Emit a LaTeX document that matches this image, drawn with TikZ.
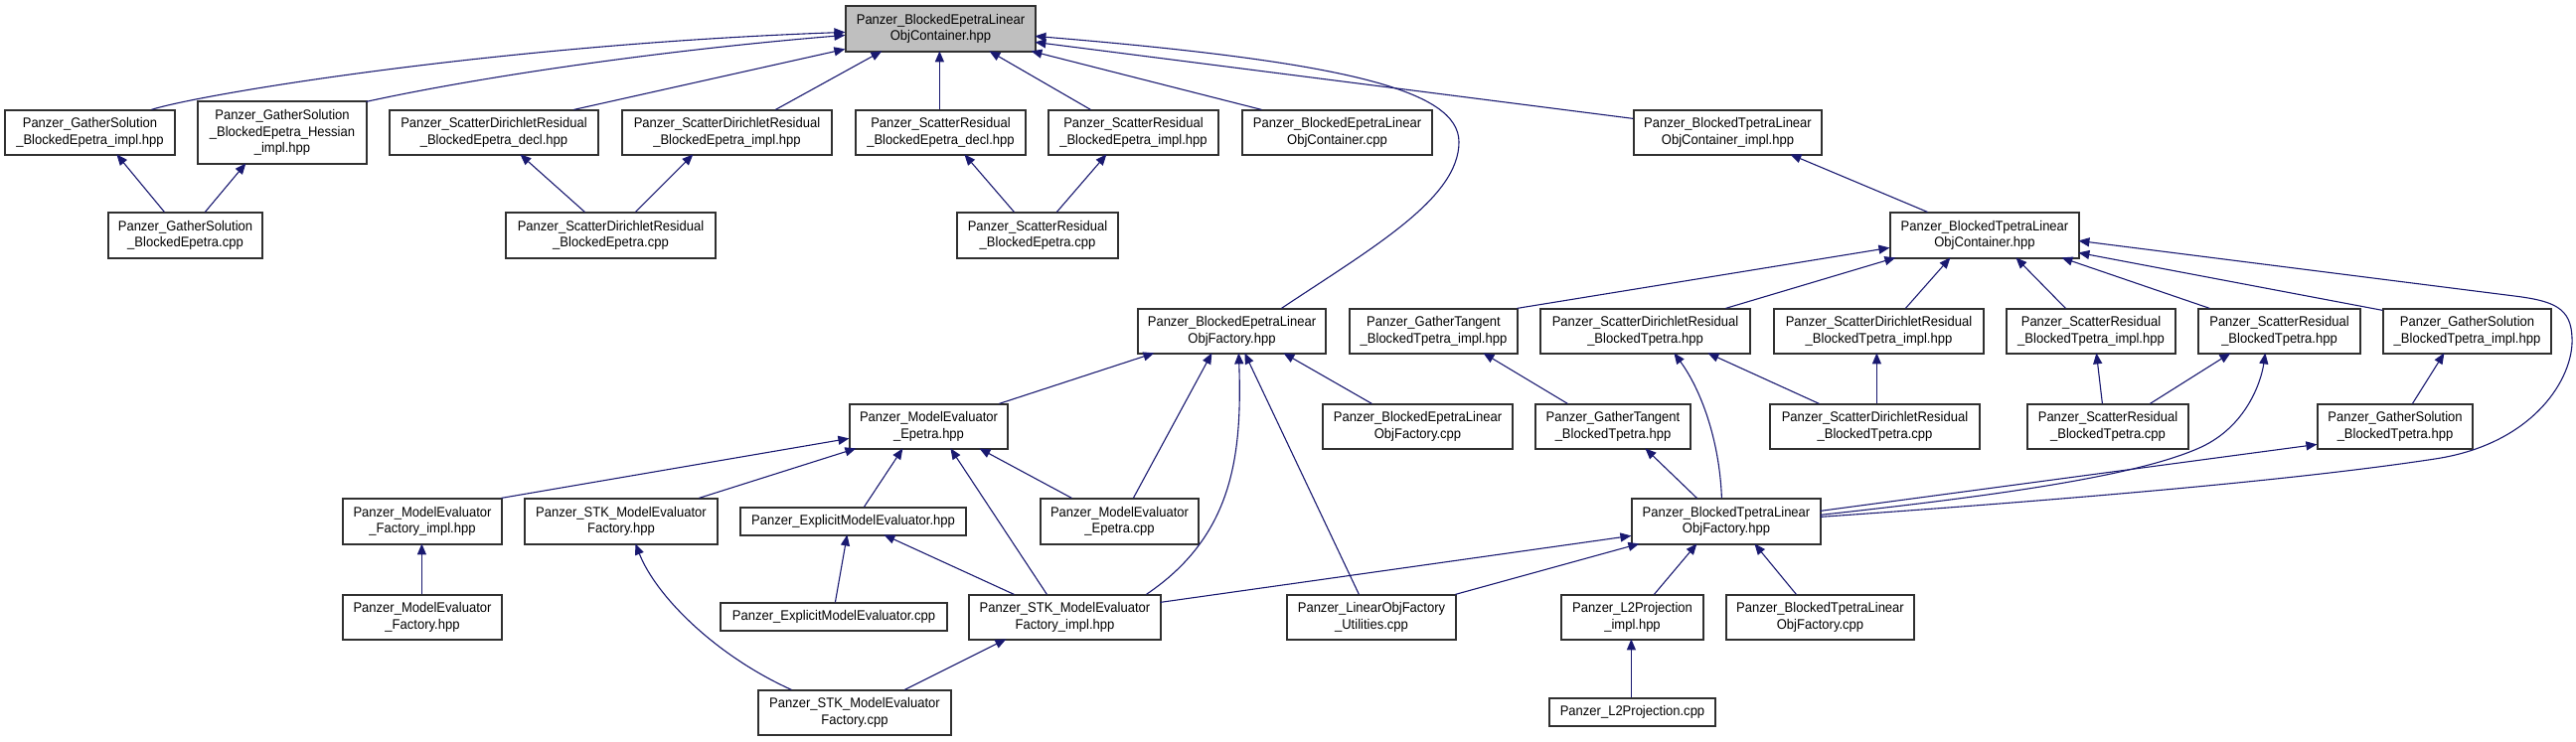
\documentclass[tikz,border=0pt]{standalone}
\usepackage{fontspec}
\setmainfont{Liberation Sans}[FakeStretch=0.93]
\usetikzlibrary{arrows.meta}
\definecolor{edgeblue}{HTML}{191970}
\definecolor{boxline}{HTML}{303030}
\definecolor{mainfill}{HTML}{BFBFBF}
\tikzset{
  box/.style={draw=boxline, line width=1.2pt, fill=white, inner sep=1pt, align=center,
    font=\fontsize{14}{16.7}\selectfont},
  mainbox/.style={box, fill=mainfill},
  edge/.style={draw=edgeblue, line width=1.1pt, -{Triangle[length=11pt,width=9pt]}}
}
\begin{document}
\begin{tikzpicture}[x=1pt,y=-1pt]
\useasboundingbox (0,0) rectangle (2592,747);
% nodes
\node[mainbox,minimum width=191pt,minimum height=46pt] (main) at (946.5,29) {Panzer\_BlockedEpetraLinear\\ObjContainer.hpp};
\node[box,minimum width=171pt,minimum height=45pt] (gsi) at (90.5,133.5) {Panzer\_GatherSolution\\\_BlockedEpetra\_impl.hpp};
\node[box,minimum width=170pt,minimum height=63pt] (gsh) at (284,133.5) {Panzer\_GatherSolution\\\_BlockedEpetra\_Hessian\\\_impl.hpp};
\node[box,minimum width=210pt,minimum height=45pt] (sdrd) at (497,133.5) {Panzer\_ScatterDirichletResidual\\\_BlockedEpetra\_decl.hpp};
\node[box,minimum width=211pt,minimum height=45pt] (sdri) at (731.5,133.5) {Panzer\_ScatterDirichletResidual\\\_BlockedEpetra\_impl.hpp};
\node[box,minimum width=171pt,minimum height=45pt] (srd) at (946.5,133.5) {Panzer\_ScatterResidual\\\_BlockedEpetra\_decl.hpp};
\node[box,minimum width=171pt,minimum height=45pt] (sri) at (1140.5,133.5) {Panzer\_ScatterResidual\\\_BlockedEpetra\_impl.hpp};
\node[box,minimum width=191pt,minimum height=45pt] (belc) at (1345.5,133.5) {Panzer\_BlockedEpetraLinear\\ObjContainer.cpp};
\node[box,minimum width=189pt,minimum height=45pt] (btli) at (1738.5,133.5) {Panzer\_BlockedTpetraLinear\\ObjContainer\_impl.hpp};
\node[box,minimum width=155pt,minimum height=46pt] (gsc) at (186.5,237) {Panzer\_GatherSolution\\\_BlockedEpetra.cpp};
\node[box,minimum width=211pt,minimum height=46pt] (sdrc) at (614.5,237) {Panzer\_ScatterDirichletResidual\\\_BlockedEpetra.cpp};
\node[box,minimum width=162pt,minimum height=46pt] (src) at (1044,237) {Panzer\_ScatterResidual\\\_BlockedEpetra.cpp};
\node[box,minimum width=190pt,minimum height=46pt] (btlh) at (1997,237) {Panzer\_BlockedTpetraLinear\\ObjContainer.hpp};
\node[box,minimum width=189pt,minimum height=45pt] (befh) at (1239.5,333.5) {Panzer\_BlockedEpetraLinear\\ObjFactory.hpp};
\node[box,minimum width=169pt,minimum height=45pt] (gti) at (1442.5,333.5) {Panzer\_GatherTangent\\\_BlockedTpetra\_impl.hpp};
\node[box,minimum width=211pt,minimum height=45pt] (sdrth) at (1655.5,333.5) {Panzer\_ScatterDirichletResidual\\\_BlockedTpetra.hpp};
\node[box,minimum width=211pt,minimum height=45pt] (sdrti) at (1890.5,333.5) {Panzer\_ScatterDirichletResidual\\\_BlockedTpetra\_impl.hpp};
\node[box,minimum width=170pt,minimum height=45pt] (srti) at (2104,333.5) {Panzer\_ScatterResidual\\\_BlockedTpetra\_impl.hpp};
\node[box,minimum width=163pt,minimum height=45pt] (srth) at (2293.5,333.5) {Panzer\_ScatterResidual\\\_BlockedTpetra.hpp};
\node[box,minimum width=169pt,minimum height=45pt] (gsti) at (2482.5,333.5) {Panzer\_GatherSolution\\\_BlockedTpetra\_impl.hpp};
\node[box,minimum width=159pt,minimum height=45pt] (meh) at (934.5,429.5) {Panzer\_ModelEvaluator\\\_Epetra.hpp};
\node[box,minimum width=191pt,minimum height=45pt] (befc) at (1426.5,429.5) {Panzer\_BlockedEpetraLinear\\ObjFactory.cpp};
\node[box,minimum width=156pt,minimum height=45pt] (gth) at (1623,429.5) {Panzer\_GatherTangent\\\_BlockedTpetra.hpp};
\node[box,minimum width=211pt,minimum height=45pt] (sdrtc) at (1886.5,429.5) {Panzer\_ScatterDirichletResidual\\\_BlockedTpetra.cpp};
\node[box,minimum width=162pt,minimum height=45pt] (srtc) at (2121,429.5) {Panzer\_ScatterResidual\\\_BlockedTpetra.cpp};
\node[box,minimum width=156pt,minimum height=45pt] (gsth) at (2410,429.5) {Panzer\_GatherSolution\\\_BlockedTpetra.hpp};
\node[box,minimum width=160pt,minimum height=46pt] (mefi) at (425,525) {Panzer\_ModelEvaluator\\\_Factory\_impl.hpp};
\node[box,minimum width=194pt,minimum height=46pt] (stkfh) at (625,525) {Panzer\_STK\_ModelEvaluator\\Factory.hpp};
\node[box,minimum width=227pt,minimum height=28pt] (exh) at (858.5,525) {Panzer\_ExplicitModelEvaluator.hpp};
\node[box,minimum width=159pt,minimum height=46pt] (mec) at (1126.5,525) {Panzer\_ModelEvaluator\\\_Epetra.cpp};
\node[box,minimum width=190pt,minimum height=46pt] (btfh) at (1737,525) {Panzer\_BlockedTpetraLinear\\ObjFactory.hpp};
\node[box,minimum width=160pt,minimum height=45pt] (mefh) at (425,621.5) {Panzer\_ModelEvaluator\\\_Factory.hpp};
\node[box,minimum width=228pt,minimum height=28pt] (exc) at (839,621) {Panzer\_ExplicitModelEvaluator.cpp};
\node[box,minimum width=193pt,minimum height=45pt] (stki) at (1071.5,621.5) {Panzer\_STK\_ModelEvaluator\\Factory\_impl.hpp};
\node[box,minimum width=170pt,minimum height=45pt] (lof) at (1380,621.5) {Panzer\_LinearObjFactory\\\_Utilities.cpp};
\node[box,minimum width=143pt,minimum height=45pt] (l2i) at (1642.5,621.5) {Panzer\_L2Projection\\\_impl.hpp};
\node[box,minimum width=189pt,minimum height=45pt] (btfc) at (1831.5,621.5) {Panzer\_BlockedTpetraLinear\\ObjFactory.cpp};
\node[box,minimum width=167pt,minimum height=28pt] (l2c) at (1642.5,717) {Panzer\_L2Projection.cpp};
\node[box,minimum width=194pt,minimum height=45pt] (stkc) at (860,717.5) {Panzer\_STK\_ModelEvaluator\\Factory.cpp};
% edges
\draw[edge] ([shift={(148,0)}]gsi.north west) .. controls (200,95) and (500,45) .. ([shift={(0,27)}]main.north west);
\draw[edge] ([shift={(170,1)}]gsh.north west) .. controls (470,80) and (650,52) .. ([shift={(0,30)}]main.north west);
\draw[edge] ([shift={(186,0)}]sdrd.north west) -- ([shift={(0,44)}]main.north west);
\draw[edge] ([shift={(155,0)}]sdri.north west) -- ([shift={(37,46)}]main.north west);
\draw[edge] ([shift={(85,0)}]srd.north west) -- ([shift={(95,46)}]main.north west);
\draw[edge] ([shift={(43,0)}]sri.north west) -- ([shift={(145,46)}]main.north west);
\draw[edge] ([shift={(20,0)}]belc.north west) -- ([shift={(187,46)}]main.north west);
\draw[edge] ([shift={(0,9)}]btli.north west) -- ([shift={(191,37)}]main.north west);
\draw[edge] ([shift={(145,0)}]befh.north west) .. controls (1380,250) and (1468,200) .. (1468,143) .. controls (1468,90) and (1350,62) .. ([shift={(191,31)}]main.north west);
\draw[edge] ([shift={(57,0)}]gsc.north west) -- ([shift={(113,45)}]gsi.north west);
\draw[edge] ([shift={(98,0)}]gsc.north west) -- ([shift={(49,63)}]gsh.north west);
\draw[edge] ([shift={(80,0)}]sdrc.north west) -- ([shift={(132,45)}]sdrd.north west);
\draw[edge] ([shift={(131,0)}]sdrc.north west) -- ([shift={(72,45)}]sdri.north west);
\draw[edge] ([shift={(58,0)}]src.north west) -- ([shift={(110,45)}]srd.north west);
\draw[edge] ([shift={(101,0)}]src.north west) -- ([shift={(59,45)}]sri.north west);
\draw[edge] ([shift={(38,0)}]btlh.north west) -- ([shift={(158,45)}]btli.north west);
\draw[edge] ([shift={(151,0)}]meh.north west) -- ([shift={(17,45)}]befh.north west);
\draw[edge] ([shift={(94,0)}]mec.north west) -- ([shift={(75,45)}]befh.north west);
\draw[edge] ([shift={(179,0)}]stki.north west) .. controls (1240,540) and (1250,460) .. ([shift={(102,45)}]befh.north west);
\draw[edge] ([shift={(73,0)}]lof.north west) -- ([shift={(108,45)}]befh.north west);
\draw[edge] ([shift={(50,0)}]befc.north west) -- ([shift={(147,45)}]befh.north west);
\draw[edge] ([shift={(160,0)}]mefi.north west) -- ([shift={(0,35)}]meh.north west);
\draw[edge] ([shift={(176,0)}]stkfh.north west) -- ([shift={(7,45)}]meh.north west);
\draw[edge] ([shift={(125,0)}]exh.north west) -- ([shift={(54,45)}]meh.north west);
\draw[edge] ([shift={(79,0)}]stki.north west) -- ([shift={(102,45)}]meh.north west);
\draw[edge] ([shift={(32,0)}]mec.north west) -- ([shift={(131,45)}]meh.north west);
\draw[edge] ([shift={(80,0)}]mefh.north west) -- ([shift={(80,46)}]mefi.north west);
\draw[edge] ([shift={(34,0)}]stkc.north west) .. controls (720,660) and (660,600) .. ([shift={(112,46)}]stkfh.north west);
\draw[edge] ([shift={(116,0)}]exc.north west) -- ([shift={(108,28)}]exh.north west);
\draw[edge] ([shift={(46,0)}]stki.north west) -- ([shift={(145,28)}]exh.north west);
\draw[edge] ([shift={(148,0)}]stkc.north west) -- ([shift={(38,45)}]stki.north west);
\draw[edge] ([shift={(193,8)}]stki.north west) -- ([shift={(0,38)}]btfh.north west);
\draw[edge] ([shift={(170,0)}]lof.north west) -- ([shift={(8,46)}]btfh.north west);
\draw[edge] ([shift={(94,0)}]l2i.north west) -- ([shift={(66,46)}]btfh.north west);
\draw[edge] ([shift={(71,0)}]btfc.north west) -- ([shift={(124,46)}]btfh.north west);
\draw[edge] ([shift={(83,0)}]l2c.north west) -- ([shift={(71,45)}]l2i.north west);
\draw[edge] ([shift={(169,0)}]gti.north west) -- ([shift={(0,36)}]btlh.north west);
\draw[edge] ([shift={(187,0)}]sdrth.north west) -- ([shift={(6,46)}]btlh.north west);
\draw[edge] ([shift={(133,0)}]sdrti.north west) -- ([shift={(61,46)}]btlh.north west);
\draw[edge] ([shift={(60,0)}]srti.north west) -- ([shift={(127,46)}]btlh.north west);
\draw[edge] ([shift={(12,0)}]srth.north west) -- ([shift={(173,46)}]btlh.north west);
\draw[edge] ([shift={(0,2)}]gsti.north west) -- ([shift={(190,41)}]btlh.north west);
\draw[edge] ([shift={(190,19)}]btfh.north west) .. controls (2050,505) and (2300,485) .. (2450,462) .. controls (2550,447) and (2590,380) .. (2588,340) .. controls (2587,310) and (2570,303) .. (2530,298) -- ([shift={(190,29)}]btlh.north west);
\draw[edge] ([shift={(33,0)}]gth.north west) -- ([shift={(135,45)}]gti.north west);
\draw[edge] ([shift={(50,0)}]sdrtc.north west) -- ([shift={(169,45)}]sdrth.north west);
\draw[edge] ([shift={(108,0)}]sdrtc.north west) -- ([shift={(104,45)}]sdrti.north west);
\draw[edge] ([shift={(76,0)}]srtc.north west) -- ([shift={(91,45)}]srti.north west);
\draw[edge] ([shift={(124,0)}]srtc.north west) -- ([shift={(33,45)}]srth.north west);
\draw[edge] ([shift={(96,0)}]gsth.north west) -- ([shift={(62,45)}]gsti.north west);
\draw[edge] ([shift={(66,0)}]btfh.north west) -- ([shift={(111,45)}]gth.north west);
\draw[edge] ([shift={(91,0)}]btfh.north west) .. controls (1730,440) and (1710,390) .. ([shift={(135,45)}]sdrth.north west);
\draw[edge] ([shift={(190,17)}]btfh.north west) .. controls (2000,500) and (2150,480) .. (2215,450) .. controls (2260,429) and (2275,385) .. ([shift={(68,45)}]srth.north west);
\draw[edge] ([shift={(190,13)}]btfh.north west) -- ([shift={(0,41)}]gsth.north west);
\end{tikzpicture}
\end{document}
